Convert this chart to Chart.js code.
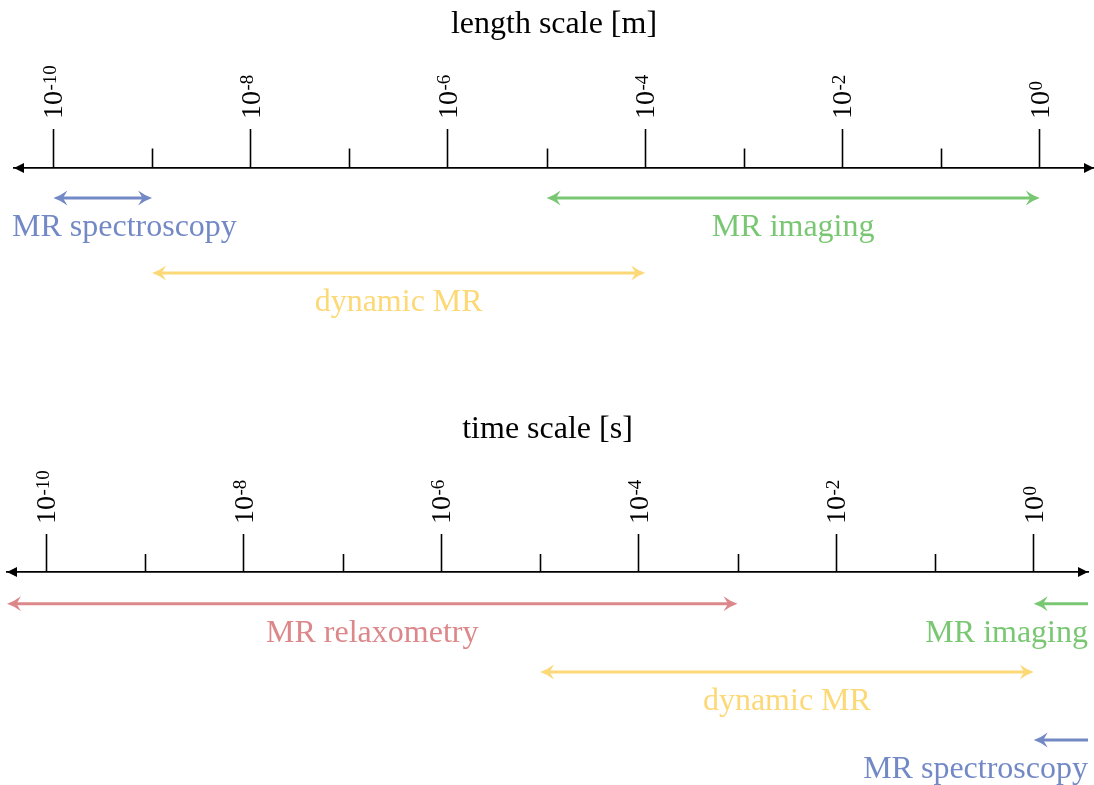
<!DOCTYPE html>
<html>
<head>
<meta charset="utf-8">
<title>MR scales</title>
<script src="https://cdn.jsdelivr.net/npm/chart.js@4.4.1/dist/chart.umd.min.js"></script>
<style>
  html, body { margin: 0; padding: 0; background: #fff; }
  #wrap { position: relative; width: 1094px; height: 785px; overflow: hidden; }
  canvas { position: absolute; left: 0; }
  #lengthChart { top: 0; }
  #timeChart { top: 400px; }
</style>
</head>
<body>
<div id="wrap">
  <canvas id="lengthChart" width="1094" height="400"></canvas>
  <canvas id="timeChart" width="1094" height="385"></canvas>
</div>
<script>
// Powers of ten marked on both axes (labelled decades and the unlabelled ones between)
const majorExponents = [-10, -8, -6, -4, -2, 0];
const minorExponents = [-9, -7, -5, -3, -1];
const axisMin = -10.4;
const axisMax = 0.55;

// Length scale, log10 of metres. null means the range runs off the end of the axis.
const lengthMethods = ['MR spectroscopy', 'MR imaging', 'dynamic MR'];
const lengthFrom = [-10, -5, -9];
const lengthTo = [-9, 0, -4];
const lengthLane = [1, 1, 2];
const lengthHeads = ['<->', '<->', '<->'];

// Time scale, log10 of seconds
const timeMethods = ['MR relaxometry', 'MR imaging', 'dynamic MR', 'MR spectroscopy'];
const timeFrom = [null, 0, -5, 0];
const timeTo = [-3, null, 0, null];
const timeLane = [1, 1, 2, 3];
const timeHeads = ['<->', '<-', '<->', '<-'];

const methodColors = {
  'MR spectroscopy': '#7389c6',
  'MR imaging': '#79c772',
  'dynamic MR': '#fcd876',
  'MR relaxometry': '#dc8789'
};

const SERIF = '"Liberation Serif", "DejaVu Serif", serif';
const TEXT_SIZE = 32;
Chart.defaults.font.family = SERIF;

function rangeDatasets(methods, from, to, lanes, heads) {
  return methods.map((m, i) => ({
    label: m,
    data: [
      { x: from[i] === null ? axisMin : from[i], y: lanes[i] },
      { x: to[i] === null ? axisMax : to[i], y: lanes[i] }
    ],
    heads: heads[i],
    borderColor: methodColors[m],
    backgroundColor: methodColors[m],
    borderWidth: 3,
    borderCapStyle: 'butt',
    pointRadius: 0,
    fill: false,
    tension: 0
  }));
}

// Concave "stealth" arrow head; dir = -1 points left, +1 points right
function arrowHead(ctx, x, y, dir, len, half, notch, color) {
  ctx.save();
  ctx.fillStyle = color;
  ctx.beginPath();
  ctx.moveTo(x, y);
  if (notch > 0) {
    ctx.quadraticCurveTo(x - dir * len * 0.5, y - half * 0.3, x - dir * len, y - half);
    ctx.lineTo(x - dir * (len - notch), y);
    ctx.lineTo(x - dir * len, y + half);
    ctx.quadraticCurveTo(x - dir * len * 0.5, y + half * 0.3, x, y);
  } else {
    ctx.lineTo(x - dir * len, y - half);
    ctx.lineTo(x - dir * len, y + half);
  }
  ctx.closePath();
  ctx.fill();
  ctx.restore();
}

const HEAD = { len: 14, half: 7.5, notch: 4.5 };

const scaleDecor = {
  id: 'scaleDecor',
  // keep the shaft ends from poking past the arrow tips
  beforeDatasetDraw(chart, args) {
    const ds = chart.data.datasets[args.index];
    const [a, b] = args.meta.data;
    const ctx = chart.ctx;
    ctx.save();
    ctx.beginPath();
    ctx.rect(0, 0, chart.width, chart.height);
    if (ds.heads.startsWith('<')) ctx.rect(a.x - 1, a.y - 4, 9, 8);
    if (ds.heads.endsWith('>')) ctx.rect(b.x - 8, b.y - 4, 9, 8);
    ctx.clip('evenodd');
  },
  afterDatasetDraw(chart) {
    chart.ctx.restore();
  },
  afterDatasetsDraw(chart) {
    const ctx = chart.ctx;
    const area = chart.chartArea;
    chart.data.datasets.forEach((ds, i) => {
      const [a, b] = chart.getDatasetMeta(i).data;
      if (ds.heads.startsWith('<')) arrowHead(ctx, a.x, a.y, -1, HEAD.len, HEAD.half, HEAD.notch, ds.borderColor);
      if (ds.heads.endsWith('>')) arrowHead(ctx, b.x, b.y, 1, HEAD.len, HEAD.half, HEAD.notch, ds.borderColor);
      // method name centred under its range, kept inside the axis span
      ctx.save();
      ctx.font = TEXT_SIZE + 'px ' + SERIF;
      ctx.fillStyle = ds.borderColor;
      ctx.textBaseline = 'alphabetic';
      ctx.textAlign = 'left';
      const w = ctx.measureText(ds.label).width;
      let left = (a.x + b.x) / 2 - w / 2;
      left = Math.max(left, area.left - 2);
      left = Math.min(left, area.right - w);
      ctx.fillText(ds.label, left, a.y + 38);
      ctx.restore();
    });
  },
  afterDraw(chart, args, opts) {
    const ctx = chart.ctx;
    const xs = chart.scales.x;
    const axisY = xs.bottom;
    ctx.save();
    // unlabelled decades
    ctx.strokeStyle = '#000';
    ctx.lineWidth = 1.6;
    minorExponents.forEach(e => {
      const px = Math.round(xs.getPixelForValue(e)) + 0.5;
      ctx.beginPath();
      ctx.moveTo(px, axisY);
      ctx.lineTo(px, axisY - opts.minorLength);
      ctx.stroke();
    });
    // arrow ends of the axis
    arrowHead(ctx, xs.left, axisY, -1, 10, 5, 0, '#000');
    arrowHead(ctx, xs.right, axisY, 1, 10, 5, 0, '#000');
    // rotated 10^n labels
    ctx.fillStyle = '#000';
    ctx.textBaseline = 'alphabetic';
    ctx.textAlign = 'left';
    const labelBottom = axisY - opts.majorLength - 10;
    majorExponents.forEach(e => {
      const px = xs.getPixelForValue(e);
      ctx.save();
      ctx.translate(px + 9, labelBottom);
      ctx.rotate(-Math.PI / 2);
      ctx.font = '28px ' + SERIF;
      ctx.fillText('10', 0, 0);
      const w = ctx.measureText('10').width;
      ctx.font = '19px ' + SERIF;
      ctx.fillText(String(e), w + 0.5, -6.5);
      ctx.restore();
    });
    ctx.restore();
  }
};

function makeChart(id, title, methods, from, to, lanes, heads, cfg) {
  return new Chart(document.getElementById(id), {
    type: 'line',
    data: { datasets: rangeDatasets(methods, from, to, lanes, heads) },
    options: {
      responsive: false,
      animation: false,
      events: [],
      layout: { padding: { left: cfg.left, right: cfg.right, top: 0, bottom: 0 } },
      plugins: {
        legend: { display: false },
        tooltip: { enabled: false },
        title: {
          display: true,
          text: title,
          color: '#000',
          font: { family: SERIF, size: TEXT_SIZE, weight: 'normal', lineHeight: 1.2 },
          padding: { top: cfg.titleTop, bottom: cfg.titleBottom }
        },
        scaleDecor: { minorLength: cfg.minor, majorLength: cfg.major }
      },
      scales: {
        x: {
          type: 'linear',
          position: 'top',
          min: axisMin,
          max: axisMax,
          afterBuildTicks: s => { s.ticks = majorExponents.map(v => ({ value: v })); },
          ticks: { display: false },
          grid: {
            display: true,
            drawOnChartArea: false,
            drawTicks: true,
            tickLength: cfg.major,
            tickWidth: 1.6,
            tickColor: '#000'
          },
          border: { display: true, color: '#000', width: 1.8 }
        },
        y: {
          type: 'linear',
          display: false,
          reverse: true,
          min: cfg.yMin,
          max: cfg.yMax
        }
      }
    },
    plugins: [scaleDecor]
  });
}

// title box = titleTop + 32*1.2 + titleBottom, which puts the axis ticks' tops at y = 129 / 134
makeChart('lengthChart', 'length scale [m]', lengthMethods, lengthFrom, lengthTo, lengthLane, lengthHeads,
  { left: 14, right: 0, titleTop: 5, titleBottom: 85.6, major: 39, minor: 19.5, yMin: 0.6, yMax: 3.69 });

makeChart('timeChart', 'time scale [s]', timeMethods, timeFrom, timeTo, timeLane, timeHeads,
  { left: 7, right: 6, titleTop: 10, titleBottom: 85.6, major: 38, minor: 18, yMin: 0.532, yMax: 3.661 });
</script>
</body>
</html>
